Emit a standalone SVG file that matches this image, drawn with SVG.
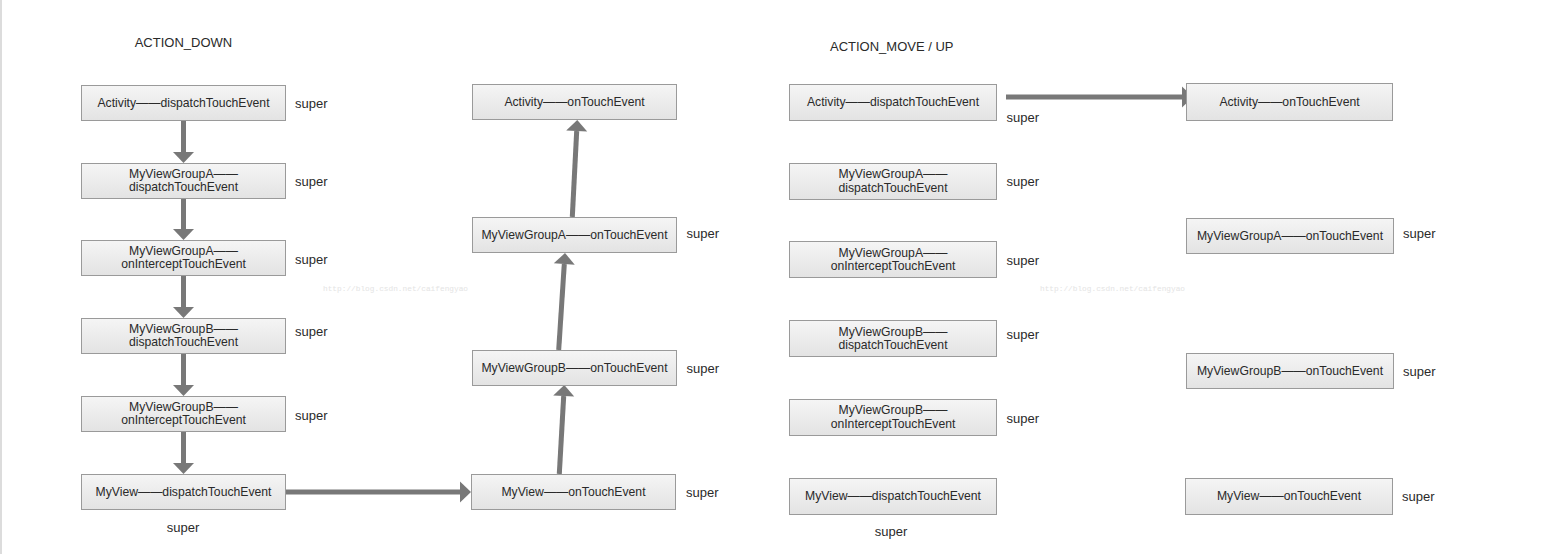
<svg xmlns="http://www.w3.org/2000/svg" width="1553" height="554" viewBox="0 0 1553 554">
<style>
.box{fill:url(#bg);stroke:#9a9a9a;stroke-width:1}
.lbl{font-family:"Liberation Sans",Arial,sans-serif;font-size:12.2px;fill:#2a2a2a;text-anchor:middle}
.sup{font-family:"Liberation Sans",Arial,sans-serif;font-size:13px;fill:#2a2a2a}
.ttl{font-family:"Liberation Sans",Arial,sans-serif;font-size:13px;fill:#2a2a2a}
.wm{font-family:"Liberation Mono",monospace;font-size:7.8px;fill:#e4e4e4}
.arr{stroke:#787878;stroke-width:5;fill:none;marker-end:url(#ah)}
</style>
<defs>
<linearGradient id="bg" x1="0" y1="0" x2="0" y2="1">
<stop offset="0" stop-color="#f5f5f5"/>
<stop offset="1" stop-color="#e3e3e3"/>
</linearGradient>
<marker id="ah" markerUnits="userSpaceOnUse" markerWidth="12" markerHeight="22" refX="0" refY="10.5" orient="auto" overflow="visible">
<path d="M0,0 L11,10.5 L0,21 Z" fill="#787878"/>
</marker>
</defs>
<rect x="0" y="0" width="1553" height="554" fill="#ffffff"/>
<rect x="0" y="0" width="2" height="554" fill="#dcdcdc"/>

<text class="ttl" x="134.7" y="47">ACTION_DOWN</text>
<text class="ttl" x="830" y="50.6">ACTION_MOVE / UP</text>
<text class="wm" x="323" y="291">http://blog.csdn.net/caifengyao</text>
<text class="wm" x="1040" y="291">http://blog.csdn.net/caifengyao</text>

<g id="connectors">
<line class="arr" x1="183.5" y1="120" x2="183.5" y2="152"/>
<line class="arr" x1="183.5" y1="198" x2="183.5" y2="229"/>
<line class="arr" x1="183.5" y1="275" x2="183.5" y2="307"/>
<line class="arr" x1="183.5" y1="353" x2="183.5" y2="385"/>
<line class="arr" x1="183.5" y1="431" x2="183.5" y2="463"/>
<line class="arr" x1="286" y1="492" x2="460" y2="492"/>
<line class="arr" x1="559.3" y1="474" x2="563.7" y2="396"/>
<line class="arr" x1="558.7" y1="350" x2="564.3" y2="264"/>
<line class="arr" x1="572.3" y1="217" x2="576.7" y2="131"/>
<line class="arr" x1="1006" y1="97" x2="1182" y2="97"/>
</g>

<g id="a-act-dispatch"><rect class="box" x="81.5" y="85.5" width="204" height="35"/><text class="lbl" x="183.5" y="106.7">Activity——dispatchTouchEvent</text><text class="sup" x="295" y="107.6">super</text></g>
<g id="a-vga-dispatch"><rect class="box" x="81.5" y="163.5" width="204" height="35"/><text class="lbl" x="183.5" y="177.6">MyViewGroupA——</text><text class="lbl" x="183.5" y="191">dispatchTouchEvent</text><text class="sup" x="295" y="186.3">super</text></g>
<g id="a-vga-intercept"><rect class="box" x="81.5" y="240.5" width="204" height="35"/><text class="lbl" x="183.5" y="254.6">MyViewGroupA——</text><text class="lbl" x="183.5" y="268">onInterceptTouchEvent</text><text class="sup" x="295" y="263.6">super</text></g>
<g id="a-vgb-dispatch"><rect class="box" x="81.5" y="318.5" width="204" height="35"/><text class="lbl" x="183.5" y="332.6">MyViewGroupB——</text><text class="lbl" x="183.5" y="346">dispatchTouchEvent</text><text class="sup" x="295" y="336.3">super</text></g>
<g id="a-vgb-intercept"><rect class="box" x="81.5" y="396.5" width="204" height="35"/><text class="lbl" x="183.5" y="410.6">MyViewGroupB——</text><text class="lbl" x="183.5" y="424">onInterceptTouchEvent</text><text class="sup" x="295" y="419.6">super</text></g>
<g id="a-view-dispatch"><rect class="box" x="81.5" y="474.5" width="204" height="35"/><text class="lbl" x="183.5" y="495.8">MyView——dispatchTouchEvent</text><text class="sup" x="183" y="531.6" text-anchor="middle">super</text></g>

<g id="a-act-touch"><rect class="box" x="472.5" y="84.5" width="204" height="35"/><text class="lbl" x="574.5" y="105.8">Activity——onTouchEvent</text></g>
<g id="a-vga-touch"><rect class="box" x="472.5" y="217.5" width="204" height="35"/><text class="lbl" x="574.5" y="238.8">MyViewGroupA——onTouchEvent</text><text class="sup" x="686.5" y="237.9">super</text></g>
<g id="a-vgb-touch"><rect class="box" x="472.5" y="350.5" width="204" height="35"/><text class="lbl" x="574.5" y="371.8">MyViewGroupB——onTouchEvent</text><text class="sup" x="686.5" y="372.9">super</text></g>
<g id="a-view-touch"><rect class="box" x="471.5" y="474.5" width="204" height="35"/><text class="lbl" x="573.5" y="495.8">MyView——onTouchEvent</text><text class="sup" x="686" y="497.3">super</text></g>

<g id="m-act-dispatch"><rect class="box" x="789.5" y="84.5" width="207" height="36"/><text class="lbl" x="893" y="106">Activity——dispatchTouchEvent</text><text class="sup" x="1006.5" y="122.3">super</text></g>
<g id="m-vga-dispatch"><rect class="box" x="789.5" y="163.5" width="207" height="36"/><text class="lbl" x="893" y="178.3">MyViewGroupA——</text><text class="lbl" x="893" y="191.6">dispatchTouchEvent</text><text class="sup" x="1006.5" y="186.3">super</text></g>
<g id="m-vga-intercept"><rect class="box" x="789.5" y="241.5" width="207" height="36"/><text class="lbl" x="893" y="256.6">MyViewGroupA——</text><text class="lbl" x="893" y="270">onInterceptTouchEvent</text><text class="sup" x="1006.5" y="265.3">super</text></g>
<g id="m-vgb-dispatch"><rect class="box" x="789.5" y="320.5" width="207" height="36"/><text class="lbl" x="893" y="335.6">MyViewGroupB——</text><text class="lbl" x="893" y="349">dispatchTouchEvent</text><text class="sup" x="1006.5" y="338.6">super</text></g>
<g id="m-vgb-intercept"><rect class="box" x="789.5" y="399.5" width="207" height="36"/><text class="lbl" x="893" y="414.3">MyViewGroupB——</text><text class="lbl" x="893" y="427.6">onInterceptTouchEvent</text><text class="sup" x="1006.5" y="423">super</text></g>
<g id="m-view-dispatch"><rect class="box" x="789.5" y="478.5" width="207" height="36"/><text class="lbl" x="893" y="500.3">MyView——dispatchTouchEvent</text><text class="sup" x="891" y="536.3" text-anchor="middle">super</text></g>

<g id="m-act-touch"><rect class="box" x="1186.5" y="83.5" width="206" height="37"/><text class="lbl" x="1289.5" y="105.8">Activity——onTouchEvent</text></g>
<g id="m-vga-touch"><rect class="box" x="1186.5" y="218.5" width="207" height="35"/><text class="lbl" x="1290" y="239.8">MyViewGroupA——onTouchEvent</text><text class="sup" x="1403" y="238.3">super</text></g>
<g id="m-vgb-touch"><rect class="box" x="1186.5" y="353.5" width="207" height="35"/><text class="lbl" x="1290" y="374.8">MyViewGroupB——onTouchEvent</text><text class="sup" x="1403" y="375.9">super</text></g>
<g id="m-view-touch"><rect class="box" x="1185.5" y="478.5" width="207" height="36"/><text class="lbl" x="1289" y="500.3">MyView——onTouchEvent</text><text class="sup" x="1402" y="500.9">super</text></g>
</svg>
